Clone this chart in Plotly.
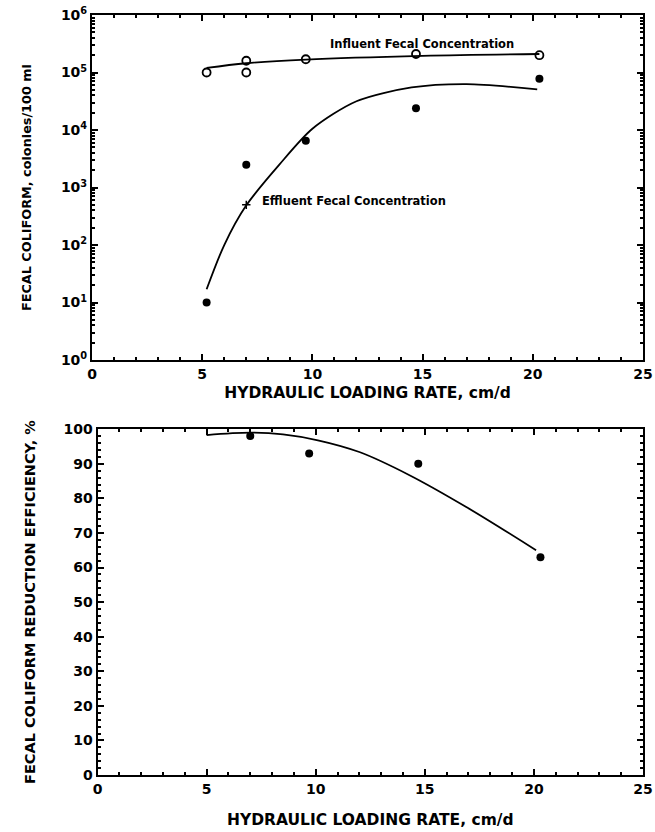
import plotly.graph_objects as go

# ---- data (top panel) ----
influent_x = [5.2, 7.0, 7.0, 9.7, 14.7, 20.3]
influent_y = [100000, 160000, 100000, 170000, 210000, 200000]
effluent_x = [5.2, 7.0, 9.7, 14.7, 20.3]
effluent_y = [10, 2500, 6500, 24000, 78000]
effluent_extra_x = [7.0]
effluent_extra_y = [500]

influent_fit_x = [5.2, 7.0, 9.7, 15.0, 20.3]
influent_fit_y = [120000, 145000, 168000, 195000, 210000]
effluent_fit_x = [5.2, 6.0, 7.0, 8.5, 10.0, 12.0, 14.5, 17.0, 20.2]
effluent_fit_y = [17, 100, 490, 2500, 10500, 31600, 55000, 63000, 51000]

# ---- data (bottom panel) ----
eff_x = [7.0, 9.7, 14.7, 20.3]
eff_y = [98, 93, 90, 63]
eff_fit_x = [5.0, 7.0, 8.5, 10.1, 12.0, 14.3, 16.9, 20.1]
eff_fit_y = [98.3, 99, 98.5, 96.8, 93.4, 86.7, 77.5, 65]

log_ticks = [1, 10, 100, 1000, 10000, 100000, 1000000]
log_ticktext = ["10<sup>%d</sup>" % i for i in range(7)]
x_ticks = [0, 5, 10, 15, 20, 25]
pct_ticks = [0, 10, 20, 30, 40, 50, 60, 70, 80, 90, 100]

minor_log = [m * 10 ** d for d in range(6) for m in range(2, 10)]

FONT = "DejaVu Sans"
tickfont = dict(family=FONT, size=14, color="black", weight="bold")

fig = go.Figure()
fig.add_trace(go.Scatter(x=influent_fit_x, y=influent_fit_y, mode="lines", line=dict(color="black", width=1.8, shape="spline"), xaxis="x", yaxis="y", showlegend=False))
fig.add_trace(go.Scatter(x=effluent_fit_x, y=effluent_fit_y, mode="lines", line=dict(color="black", width=1.8, shape="spline", smoothing=0.8), xaxis="x", yaxis="y", showlegend=False))
fig.add_trace(go.Scatter(x=influent_x, y=influent_y, mode="markers", marker=dict(symbol="circle-open", size=8, color="black", line=dict(width=1.8)), xaxis="x", yaxis="y", showlegend=False))
fig.add_trace(go.Scatter(x=effluent_x, y=effluent_y, mode="markers", marker=dict(symbol="circle", size=8, color="black"), xaxis="x", yaxis="y", showlegend=False))
fig.add_trace(go.Scatter(x=effluent_extra_x, y=effluent_extra_y, mode="markers", marker=dict(symbol="cross-thin", size=6, color="black", line=dict(width=1.5, color="black")), xaxis="x", yaxis="y", showlegend=False))

fig.add_trace(go.Scatter(x=eff_fit_x, y=eff_fit_y, mode="lines", line=dict(color="black", width=1.8, shape="spline"), xaxis="x2", yaxis="y2", showlegend=False))
fig.add_trace(go.Scatter(x=eff_x, y=eff_y, mode="markers", marker=dict(symbol="circle", size=8, color="black"), xaxis="x2", yaxis="y2", showlegend=False))

axis_common = dict(showline=True, linewidth=2, linecolor="black", mirror="ticks", ticks="inside",
                   tickcolor="black", tickwidth=1.5, showgrid=False, zeroline=False, tickfont=tickfont,
                   automargin=False)

fig.update_layout(
    width=655, height=832,
    margin=dict(l=92, r=12, t=15, b=57),
    plot_bgcolor="white", paper_bgcolor="white",
    xaxis=dict(axis_common, domain=[0, 1], range=[0, 25], tickvals=x_ticks, ticklen=6,
               minor=dict(ticks="inside", ticklen=3, dtick=1, tickcolor="black"),
               anchor="y",
               title=dict(text="HYDRAULIC LOADING RATE, cm/d",
                          font=dict(family=FONT, size=15.5, color="black", weight="bold"), standoff=6)),
    yaxis=dict(axis_common, domain=[0.546, 1], type="log", range=[0, 6], tickvals=log_ticks,
               ticktext=log_ticktext, ticklen=6,
               minor=dict(ticks="inside", ticklen=3, tickvals=minor_log, tickcolor="black"),
               anchor="x",
               title=dict(text="FECAL COLIFORM, colonies/100 ml",
                          font=dict(family=FONT, size=12.8, color="black", weight="bold"), standoff=26)),
    xaxis2=dict(axis_common, domain=[0.01, 1], range=[0, 25], tickvals=x_ticks, ticklen=6,
                minor=dict(ticks="inside", ticklen=3, dtick=1, tickcolor="black"),
                anchor="y2",
                title=dict(text="HYDRAULIC LOADING RATE, cm/d",
                           font=dict(family=FONT, size=15.5, color="black", weight="bold"), standoff=18)),
    yaxis2=dict(axis_common, domain=[0, 0.455], range=[0, 100], tickvals=pct_ticks, ticklen=6,
                minor=dict(ticks="inside", ticklen=3, dtick=2, tickcolor="black"),
                anchor="x2",
                title=dict(text="FECAL COLIFORM REDUCTION EFFICIENCY, %",
                           font=dict(family=FONT, size=14.5, color="black", weight="bold"), standoff=24)),
)

fig.add_annotation(x=10.7, y=5.5, xref="x", yref="y", text="Influent Fecal Concentration",
                   showarrow=False, xanchor="left", yanchor="middle",
                   font=dict(family=FONT, size=11.5, color="black", weight="bold"))
fig.add_annotation(x=7.6, y=2.77, xref="x", yref="y", text="Effluent Fecal Concentration",
                   showarrow=False, xanchor="left", yanchor="middle",
                   font=dict(family=FONT, size=11.5, color="black", weight="bold"))

fig.write_html("out.html")
